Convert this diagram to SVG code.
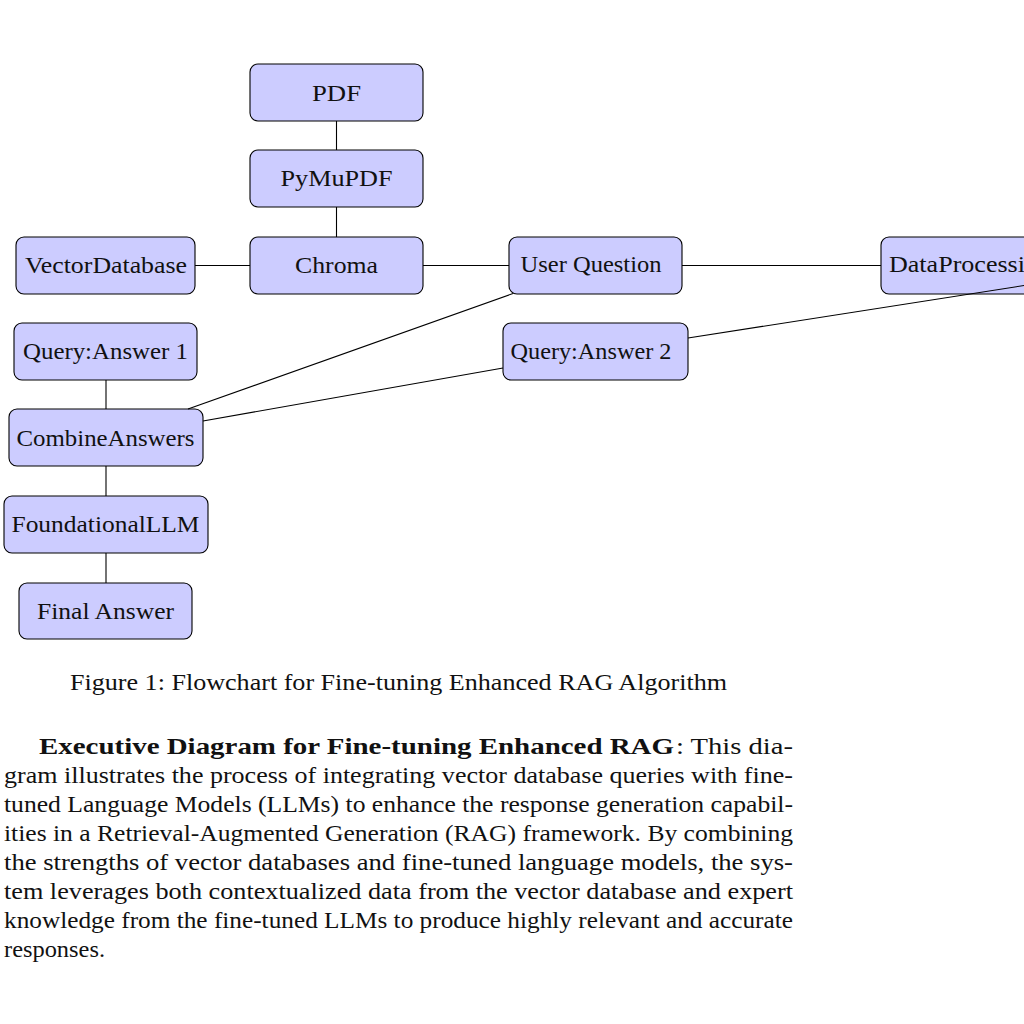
<svg xmlns="http://www.w3.org/2000/svg" width="1024" height="1024" viewBox="0 0 1024 1024">
<style>
.n rect{fill:#ccccff;stroke:#000;stroke-width:1.1}
.n text{font-family:"Liberation Serif","DejaVu Serif",serif;font-size:24px;text-anchor:middle;fill:#111}
.e line{stroke:#000;stroke-width:1.1}
.t{font-family:"Liberation Serif","DejaVu Serif",serif;font-size:23px;fill:#111}
</style>
<rect width="1024" height="1024" fill="#fff"/>
<g class="n" id="pdf"><rect x="250" y="64" width="173" height="57" rx="8"/><text x="336.5" y="101" textLength="49" lengthAdjust="spacingAndGlyphs">PDF</text></g>
<g class="n" id="pymupdf"><rect x="250" y="150" width="173" height="57" rx="8"/><text x="336.5" y="186" textLength="112" lengthAdjust="spacingAndGlyphs">PyMuPDF</text></g>
<g class="n" id="chroma"><rect x="250" y="237" width="173" height="57" rx="8"/><text x="336.5" y="273" textLength="83" lengthAdjust="spacingAndGlyphs">Chroma</text></g>
<g class="n" id="vectordb"><rect x="16" y="237" width="179" height="57" rx="8"/><text x="106" y="273" textLength="162" lengthAdjust="spacingAndGlyphs">VectorDatabase</text></g>
<g class="n" id="userq"><rect x="509" y="237" width="173" height="57" rx="8"/><text x="591" y="272" textLength="141" lengthAdjust="spacingAndGlyphs">User Question</text></g>
<g class="n" id="dataproc"><rect x="881" y="237" width="178" height="57" rx="8"/><text x="889" y="272" style="text-anchor:start" textLength="162" lengthAdjust="spacingAndGlyphs">DataProcessing</text></g>
<g class="n" id="qa1"><rect x="14" y="323" width="183" height="57" rx="8"/><text x="105.5" y="359" textLength="165" lengthAdjust="spacingAndGlyphs">Query:Answer 1</text></g>
<g class="n" id="qa2"><rect x="503" y="323" width="185" height="57" rx="8"/><text x="591" y="359" textLength="161" lengthAdjust="spacingAndGlyphs">Query:Answer 2</text></g>
<g class="n" id="combine"><rect x="9" y="409" width="194" height="57" rx="8"/><text x="105.5" y="446" textLength="178" lengthAdjust="spacingAndGlyphs">CombineAnswers</text></g>
<g class="n" id="foundational"><rect x="4" y="496" width="204" height="57" rx="8"/><text x="105.5" y="532" textLength="188" lengthAdjust="spacingAndGlyphs">FoundationalLLM</text></g>
<g class="n" id="final"><rect x="19" y="583" width="173" height="56" rx="8"/><text x="105.5" y="619" textLength="137" lengthAdjust="spacingAndGlyphs">Final Answer</text></g>
<g class="e" id="connectors">
<line x1="336.5" y1="121" x2="336.5" y2="150"/>
<line x1="336.5" y1="207" x2="336.5" y2="237"/>
<line x1="195" y1="265.5" x2="250" y2="265.5"/>
<line x1="423" y1="265.5" x2="509" y2="265.5"/>
<line x1="682" y1="265.5" x2="881" y2="265.5"/>
<line x1="513" y1="293.5" x2="188" y2="409"/>
<line x1="503" y1="368" x2="203" y2="421"/>
<line x1="688" y1="338" x2="1040" y2="283"/>
<line x1="106" y1="380" x2="106" y2="409"/>
<line x1="106" y1="466" x2="106" y2="496"/>
<line x1="106" y1="553" x2="106" y2="583"/>
</g>
<text class="t" x="70" y="690" textLength="657" lengthAdjust="spacingAndGlyphs">Figure 1: Flowchart for Fine-tuning Enhanced RAG Algorithm</text>
<text class="t" x="39" y="754" font-weight="bold" textLength="635" lengthAdjust="spacingAndGlyphs">Executive Diagram for Fine-tuning Enhanced RAG</text>
<text class="t" x="676" y="754" textLength="117" lengthAdjust="spacingAndGlyphs">: This dia-</text>
<text class="t" x="4" y="783" textLength="789" lengthAdjust="spacingAndGlyphs">gram illustrates the process of integrating vector database queries with fine-</text>
<text class="t" x="4" y="812" textLength="789" lengthAdjust="spacingAndGlyphs">tuned Language Models (LLMs) to enhance the response generation capabil-</text>
<text class="t" x="4" y="841" textLength="789" lengthAdjust="spacingAndGlyphs">ities in a Retrieval-Augmented Generation (RAG) framework. By combining</text>
<text class="t" x="4" y="870" textLength="789" lengthAdjust="spacingAndGlyphs">the strengths of vector databases and fine-tuned language models, the sys-</text>
<text class="t" x="4" y="899" textLength="789" lengthAdjust="spacingAndGlyphs">tem leverages both contextualized data from the vector database and expert</text>
<text class="t" x="4" y="928" textLength="789" lengthAdjust="spacingAndGlyphs">knowledge from the fine-tuned LLMs to produce highly relevant and accurate</text>
<text class="t" x="4" y="957" textLength="101" lengthAdjust="spacingAndGlyphs">responses.</text>
</svg>
